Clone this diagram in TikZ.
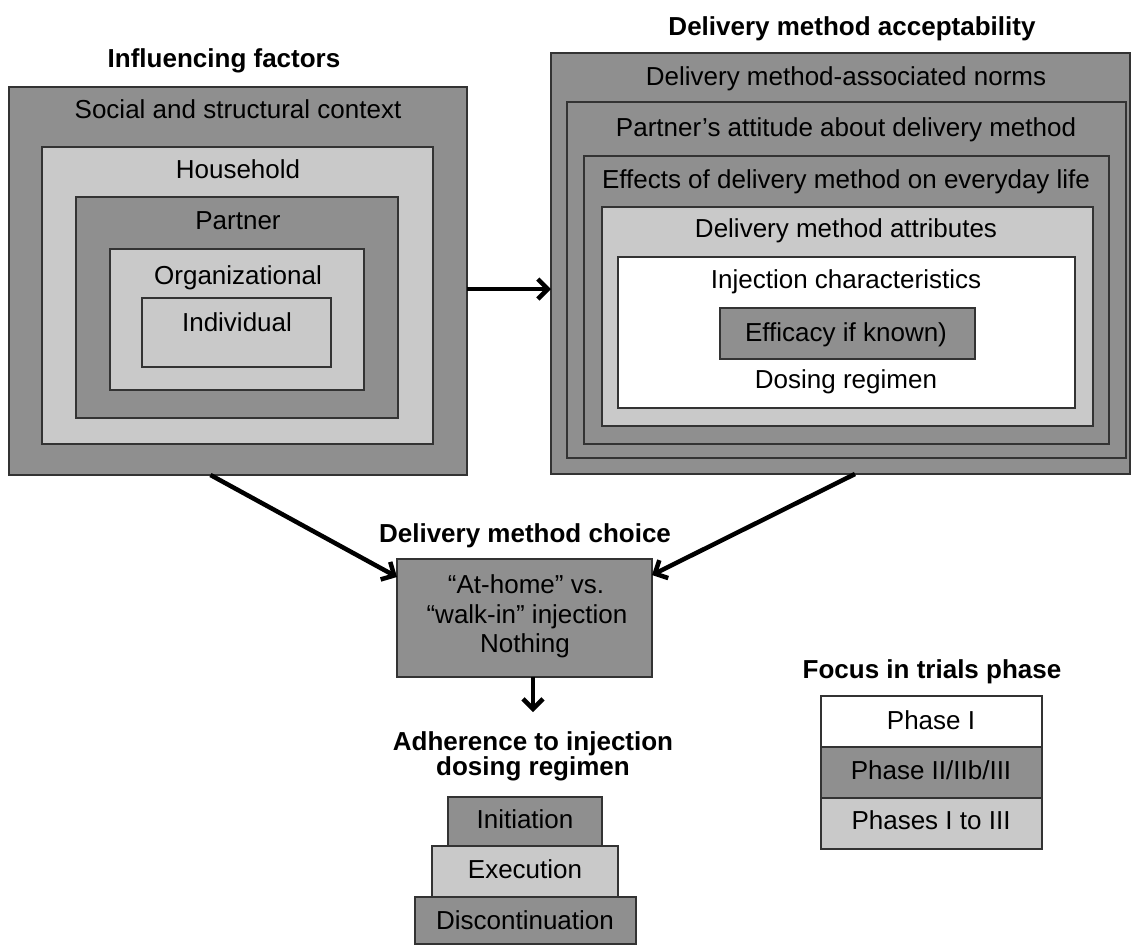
\documentclass[tikz,border=0pt]{standalone}
\usepackage{fontspec}
\setmainfont{Liberation Sans}
\usetikzlibrary{arrows.meta,calc}
\definecolor{dkgray}{HTML}{8F8F8F}
\definecolor{ltgray}{HTML}{C9C9C9}
\definecolor{edge}{HTML}{333333}
\begin{document}
\begin{tikzpicture}[x=1pt,y=-1pt,
  bx/.style={draw=edge, line width=1.3pt, inner sep=0pt, outer sep=0pt, anchor=north west},
  dk/.style={bx, fill=dkgray},
  lt/.style={bx, fill=ltgray},
  wt/.style={bx, fill=white},
  txt/.style={inner sep=0pt, anchor=base, font=\fontsize{26}{30}\selectfont},
  ttl/.style={inner sep=0pt, anchor=base, font=\fontsize{26}{30}\selectfont\bfseries},
  arr/.style={line width=4.5pt, -{Straight Barb[length=10pt,width=20pt]}}]
\fill[white] (0,0) rectangle (1132,946);
\useasboundingbox (0,0) rectangle (1132,946);

% ---- Influencing factors ----
\node[ttl] (tinf) at (224,67) {Influencing factors};
\node[dk, minimum width=458pt, minimum height=388pt] (soc) at (9,87) {};
\node[lt, minimum width=391pt, minimum height=297pt] (hh) at (42,147) {};
\node[dk, minimum width=322pt, minimum height=221pt] (par) at (76,197) {};
\node[lt, minimum width=254pt, minimum height=141pt] (org) at (110,249) {};
\node[lt, minimum width=189pt, minimum height=69pt] (ind) at (142,298) {};
\node[txt] (tsoc) at (238,118) {Social and structural context};
\node[txt] (thh) at (238,178) {Household};
\node[txt] (tpar) at (238,229) {Partner};
\node[txt] (torg) at (238,284) {Organizational};
\node[txt] (tind) at (237,331) {Individual};

% ---- Delivery method acceptability ----
\node[ttl] (tacc) at (852,35) {Delivery method acceptability};
\node[dk, minimum width=579pt, minimum height=421pt] (acc) at (551,53) {};
\node[dk, minimum width=559pt, minimum height=356pt] (att) at (567,102) {};
\node[dk, minimum width=525pt, minimum height=288pt] (eff) at (584,156) {};
\node[lt, minimum width=491pt, minimum height=219pt] (attr) at (602,207) {};
\node[wt, minimum width=457pt, minimum height=151pt] (inj) at (618,257) {};
\node[dk, minimum width=255pt, minimum height=51pt] (efc) at (720,308) {};
\node[txt] (tnorm) at (846,85) {Delivery method-associated norms};
\node[txt] (tatt) at (846,136) {Partner’s attitude about delivery method};
\node[txt] (teff) at (846,188) {Effects of delivery method on everyday life};
\node[txt] (tattr) at (846,237) {Delivery method attributes};
\node[txt] (tinj) at (846,288) {Injection characteristics};
\node[txt] (tefc) at (846,341) {Efficacy if known)};
\node[txt] (tdos) at (846,388) {Dosing regimen};

% ---- Delivery method choice ----
\node[ttl] (tcho) at (525,542) {Delivery method choice};
\node[dk, minimum width=255pt, minimum height=118pt] (choice) at (397,559) {};
\node[txt] (c1) at (526,593) {“At-home” vs.};
\node[txt] (c2) at (527,623) {“walk-in” injection};
\node[txt] (c3) at (525,652) {Nothing};

% ---- Adherence ----
\coordinate (adhtop) at (533,712);
\node[ttl] (tadh1) at (533,750) {Adherence to injection};
\node[ttl] (tadh2) at (533,775) {dosing regimen};
\node[dk, minimum width=154pt, minimum height=49pt] (init) at (448,797) {};
\node[lt, minimum width=186pt, minimum height=51pt] (exec) at (432,846) {};
\node[dk, minimum width=221pt, minimum height=47pt] (disc) at (415,897) {};
\node[txt] (tinit) at (525,828) {Initiation};
\node[txt] (texec) at (525,878) {Execution};
\node[txt] (tdisc) at (525,929) {Discontinuation};

% ---- Legend ----
\node[ttl] (tfoc) at (932,678) {Focus in trials phase};
\node[wt, minimum width=221pt, minimum height=51pt] (p1) at (821,696) {};
\node[dk, minimum width=221pt, minimum height=51pt] (p2) at (821,747) {};
\node[lt, minimum width=221pt, minimum height=51pt] (p3) at (821,798) {};
\node[txt] (tp1) at (931,729) {Phase I};
\node[txt] (tp2) at (931,779) {Phase II/IIb/III};
\node[txt] (tp3) at (931,829) {Phases I to III};

% ---- Connectors ----
\coordinate (hy) at (0,289);
\draw[arr] (soc.east |- hy) -- (acc.west |- hy);
\draw[arr] ($(soc.south west)!0.44!(soc.south east)$) -- ([yshift=41pt]choice.west);
\draw[arr] ($(acc.south west)!0.525!(acc.south east)$) -- ([yshift=43pt]choice.east);
\draw[arr] (choice.south -| adhtop) -- (adhtop);
\end{tikzpicture}
\end{document}
